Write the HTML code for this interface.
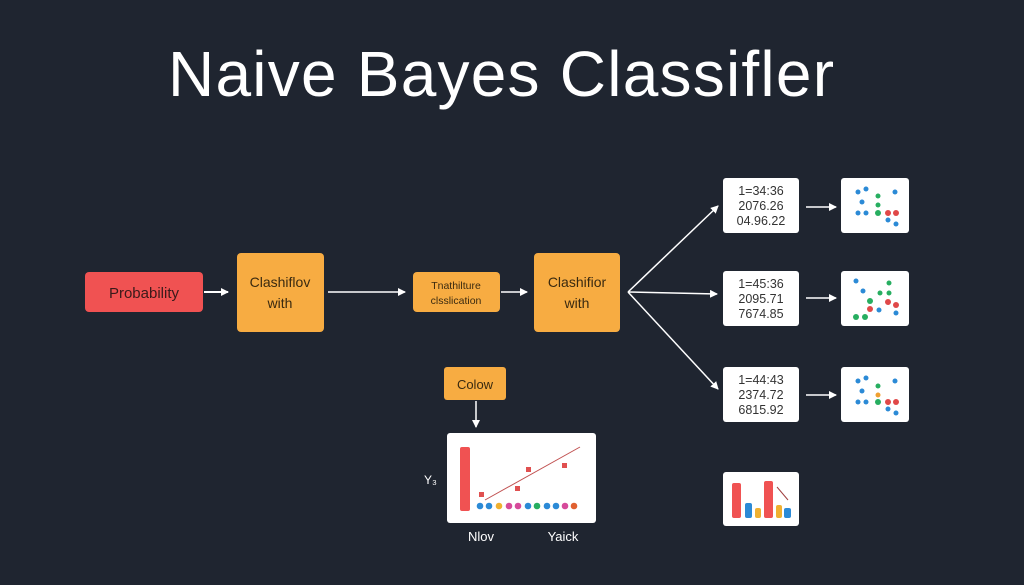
<!DOCTYPE html>
<html><head><style>
html,body{margin:0;padding:0;background:#1f2530;}
svg{display:block;}
text{font-family:"Liberation Sans",sans-serif;}
</style></head><body>
<svg width="1024" height="585" viewBox="0 0 1024 585" xmlns="http://www.w3.org/2000/svg">
<defs><marker id="a" markerWidth="8" markerHeight="8" refX="7" refY="4" orient="auto" markerUnits="userSpaceOnUse"><path d="M0,0 L8,4 L0,8 z" fill="#fff"/></marker>
<marker id="b" markerWidth="14" markerHeight="14" refX="12" refY="7" orient="auto" markerUnits="userSpaceOnUse"><path d="M0,1 L12,7 L0,13" fill="none" stroke="#fff" stroke-width="1.6"/></marker></defs>
<rect width="1024" height="585" fill="#1f2530"/>
<text x="501" y="96" font-size="64" fill="#fff" text-anchor="middle" textLength="666">Naive Bayes Classifler</text>

<rect x="85" y="272" width="118" height="40" rx="4" fill="#f05252"/>
<text x="144" y="298" font-size="15" fill="#3a1a1a" text-anchor="middle">Probability</text>
<line x1="204" y1="292" x2="228" y2="292" stroke="#fff" stroke-width="2" marker-end="url(#a)"/>
<rect x="237" y="253" width="87" height="79" rx="4" fill="#f7ac42"/>
<text x="280" y="287" font-size="14" fill="#3a2a10" text-anchor="middle">Clashiflov</text>
<text x="280" y="308" font-size="14" fill="#3a2a10" text-anchor="middle">with</text>
<line x1="328" y1="292" x2="405" y2="292" stroke="#fff" stroke-width="1.5" marker-end="url(#a)"/>
<rect x="413" y="272" width="87" height="40" rx="4" fill="#f7ac42"/>
<text x="456" y="289" font-size="10.5" fill="#3a2a10" text-anchor="middle">Tnathilture</text>
<text x="456" y="304" font-size="10.5" fill="#3a2a10" text-anchor="middle">clsslication</text>
<line x1="501" y1="292" x2="527" y2="292" stroke="#fff" stroke-width="1.5" marker-end="url(#a)"/>
<rect x="534" y="253" width="86" height="79" rx="4" fill="#f7ac42"/>
<text x="577" y="287" font-size="14" fill="#3a2a10" text-anchor="middle">Clashifior</text>
<text x="577" y="308" font-size="14" fill="#3a2a10" text-anchor="middle">with</text>

<g stroke="#fff" stroke-width="1.5">
<line x1="628" y1="292" x2="718" y2="206" marker-end="url(#a)"/>
<line x1="628" y1="292" x2="717" y2="294" marker-end="url(#a)"/>
<line x1="628" y1="292" x2="718" y2="389" marker-end="url(#a)"/>
<line x1="806" y1="207" x2="836" y2="207" marker-end="url(#a)"/>
<line x1="806" y1="298" x2="836" y2="298" marker-end="url(#a)"/>
<line x1="806" y1="395" x2="836" y2="395" marker-end="url(#a)"/>
<line x1="476" y1="401" x2="476" y2="427" marker-end="url(#a)"/>
</g>

<g fill="#fff">
<rect x="723" y="178" width="76" height="55" rx="3"/>
<rect x="723" y="271" width="76" height="55" rx="3"/>
<rect x="723" y="367" width="76" height="55" rx="3"/>
<rect x="841" y="178" width="68" height="55" rx="3"/>
<rect x="841" y="271" width="68" height="55" rx="3"/>
<rect x="841" y="367" width="68" height="55" rx="3"/>
<rect x="447" y="433" width="149" height="90" rx="3"/>
<rect x="723" y="472" width="76" height="54" rx="3"/>
</g>
<g font-size="12.5" fill="#333" font-family="Liberation Sans">
<text x="761" y="195" text-anchor="middle">1=34:36</text>
<text x="761" y="210" text-anchor="middle">2076.26</text>
<text x="761" y="225" text-anchor="middle">04.96.22</text>
<text x="761" y="288" text-anchor="middle">1=45:36</text>
<text x="761" y="303" text-anchor="middle">2095.71</text>
<text x="761" y="318" text-anchor="middle">7674.85</text>
<text x="761" y="384" text-anchor="middle">1=44:43</text>
<text x="761" y="399" text-anchor="middle">2374.72</text>
<text x="761" y="414" text-anchor="middle">6815.92</text>
</g>
<g>
<circle cx="858" cy="192" r="2.5" fill="#2b8ad6"/><circle cx="866" cy="189" r="2.5" fill="#2b8ad6"/><circle cx="895" cy="192" r="2.5" fill="#2b8ad6"/><circle cx="862" cy="202" r="2.5" fill="#2b8ad6"/><circle cx="878" cy="196" r="2.5" fill="#27ae60"/><circle cx="878" cy="205" r="2.5" fill="#27ae60"/><circle cx="858" cy="213" r="2.5" fill="#2b8ad6"/><circle cx="866" cy="213" r="2.5" fill="#2b8ad6"/><circle cx="878" cy="213" r="3" fill="#27ae60"/><circle cx="888" cy="213" r="3" fill="#e04848"/><circle cx="896" cy="213" r="3" fill="#e04848"/><circle cx="888" cy="220" r="2.5" fill="#2b8ad6"/><circle cx="896" cy="224" r="2.5" fill="#2b8ad6"/>
<circle cx="856" cy="281" r="2.5" fill="#2b8ad6"/><circle cx="863" cy="291" r="2.5" fill="#2b8ad6"/><circle cx="889" cy="283" r="2.5" fill="#27ae60"/><circle cx="880" cy="293" r="2.5" fill="#27ae60"/><circle cx="889" cy="293" r="2.5" fill="#27ae60"/><circle cx="870" cy="301" r="3" fill="#27ae60"/><circle cx="888" cy="302" r="3" fill="#e04848"/><circle cx="896" cy="305" r="3" fill="#e04848"/><circle cx="870" cy="309" r="3" fill="#e04848"/><circle cx="879" cy="310" r="2.5" fill="#2b8ad6"/><circle cx="896" cy="313" r="2.5" fill="#2b8ad6"/><circle cx="856" cy="317" r="3" fill="#27ae60"/><circle cx="865" cy="317" r="3" fill="#27ae60"/>
<circle cx="858" cy="381" r="2.5" fill="#2b8ad6"/><circle cx="866" cy="378" r="2.5" fill="#2b8ad6"/><circle cx="895" cy="381" r="2.5" fill="#2b8ad6"/><circle cx="862" cy="391" r="2.5" fill="#2b8ad6"/><circle cx="878" cy="386" r="2.5" fill="#27ae60"/><circle cx="878" cy="395" r="2.5" fill="#f0a030"/><circle cx="858" cy="402" r="2.5" fill="#2b8ad6"/><circle cx="866" cy="402" r="2.5" fill="#2b8ad6"/><circle cx="878" cy="402" r="3" fill="#27ae60"/><circle cx="888" cy="402" r="3" fill="#e04848"/><circle cx="896" cy="402" r="3" fill="#e04848"/><circle cx="888" cy="409" r="2.5" fill="#2b8ad6"/><circle cx="896" cy="413" r="2.5" fill="#2b8ad6"/>
</g>

<rect x="444" y="367" width="62" height="33" rx="3" fill="#f7ac42"/>
<text x="475" y="389" font-size="13" fill="#3a2a10" text-anchor="middle">Colow</text>
<rect x="460" y="447" width="10" height="64" rx="2" fill="#f05252"/>
<line x1="485" y1="500" x2="580" y2="447" stroke="#c05050" stroke-width="1"/>
<g fill="#e05050"><rect x="479" y="492" width="5" height="5"/><rect x="515" y="486" width="5" height="5"/><rect x="526" y="467" width="5" height="5"/><rect x="562" y="463" width="5" height="5"/></g>
<g>
<circle cx="480" cy="506" r="3.3" fill="#2b8ad6"/><circle cx="489" cy="506" r="3.3" fill="#2b8ad6"/><circle cx="499" cy="506" r="3.3" fill="#f0b030"/><circle cx="509" cy="506" r="3.3" fill="#d64a9a"/><circle cx="518" cy="506" r="3.3" fill="#d64a9a"/><circle cx="528" cy="506" r="3.3" fill="#2b8ad6"/><circle cx="537" cy="506" r="3.3" fill="#27ae60"/><circle cx="547" cy="506" r="3.3" fill="#2b8ad6"/><circle cx="556" cy="506" r="3.3" fill="#2b8ad6"/><circle cx="565" cy="506" r="3.3" fill="#d64a9a"/><circle cx="574" cy="506" r="3.3" fill="#e06030"/>
</g>
<text x="424" y="484" font-size="12" fill="#fff">Y₃</text>
<text x="481" y="541" font-size="13" fill="#fff" text-anchor="middle">Nlov</text>
<text x="563" y="541" font-size="13" fill="#fff" text-anchor="middle">Yaick</text>

<rect x="732" y="483" width="9" height="35" rx="2" fill="#f05252"/>
<rect x="745" y="503" width="7" height="15" rx="2" fill="#2b8ad6"/>
<rect x="755" y="508" width="6" height="10" rx="2" fill="#f0b030"/>
<rect x="764" y="481" width="9" height="37" rx="2" fill="#f05252"/>
<rect x="776" y="505" width="6" height="13" rx="2" fill="#f0b030"/>
<rect x="784" y="508" width="7" height="10" rx="2" fill="#2b8ad6"/>
<line x1="777" y1="487" x2="788" y2="500" stroke="#a04040" stroke-width="1"/>
</svg>
</body></html>
